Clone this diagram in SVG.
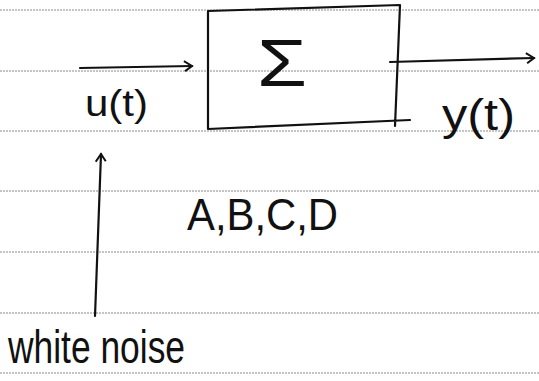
<svg xmlns="http://www.w3.org/2000/svg" width="539" height="381" viewBox="0 0 539 381">
<style>
.rule{stroke:#8a8a8a;stroke-width:1;stroke-dasharray:2 1;fill:none}
.ink{stroke:#111;stroke-width:2.2;fill:none;stroke-linecap:round;stroke-linejoin:round}
.hw{font-family:"Liberation Sans","DejaVu Sans",sans-serif;fill:#111}
</style>
<defs>
<marker id="ah" markerWidth="12" markerHeight="12" refX="10" refY="6" orient="auto" markerUnits="userSpaceOnUse">
<path d="M2,1 L10,6 L3,11" fill="none" stroke="#111" stroke-width="2"/>
</marker>
</defs>
<rect width="539" height="381" fill="#fff"/>
<g id="ruled-lines">
<line class="rule" x1="0" y1="10" x2="539" y2="10"/>
<line class="rule" x1="0" y1="71" x2="539" y2="71"/>
<line class="rule" x1="0" y1="131" x2="539" y2="131"/>
<line class="rule" x1="0" y1="191" x2="539" y2="191"/>
<line class="rule" x1="0" y1="252" x2="539" y2="252"/>
<line class="rule" x1="0" y1="313" x2="539" y2="313"/>
<line class="rule" x1="0" y1="373" x2="539" y2="373"/>
</g>
<g id="system">
<path class="ink" d="M208,11 L400,5 L395,126 M208,11 L208,129 L410,120"/>
<text class="hw" x="282" y="86" font-size="66" text-anchor="middle" textLength="50" lengthAdjust="spacingAndGlyphs">Σ</text>
</g>
<g id="connectors">
<path class="ink" d="M80,68 L192,66" marker-end="url(#ah)"/>
<path class="ink" d="M390,62 L534,58" marker-end="url(#ah)"/>
<path class="ink" d="M95,316 L101,154" marker-end="url(#ah)"/>
</g>
<g id="labels">
<text class="hw" x="85" y="116" font-size="36" textLength="63" lengthAdjust="spacingAndGlyphs">u(t)</text>
<text class="hw" x="442" y="130" font-size="44" textLength="73" lengthAdjust="spacingAndGlyphs">y(t)</text>
<text class="hw" x="187" y="230" font-size="44" textLength="151" lengthAdjust="spacingAndGlyphs">A,B,C,D</text>
<text class="hw" x="8" y="363" font-size="46" textLength="177" lengthAdjust="spacingAndGlyphs">white noise</text>
</g>
</svg>
